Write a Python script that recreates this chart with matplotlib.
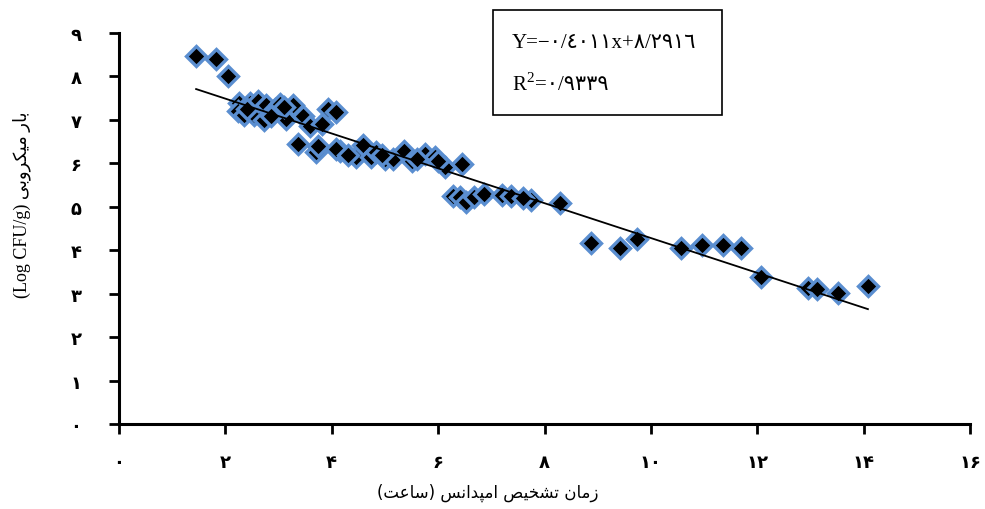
import numpy as np
import matplotlib.pyplot as plt
from matplotlib.patches import Rectangle

# time to impedance detection (hours) and microbial load (log CFU/g)
hours = [1.45, 1.82, 2.05, 2.26, 2.24, 2.35, 2.46, 2.54, 2.61, 2.73, 2.76, 2.93,
         3.03, 3.14, 3.27, 3.36, 3.46, 3.59, 3.70, 3.74, 3.82, 3.93, 4.08, 4.15,
         4.08, 4.45, 4.59, 4.74, 4.83, 5.00, 5.15, 5.36, 5.51, 5.75, 5.94, 6.13,
         6.28, 6.41, 6.52, 6.45, 6.67, 6.86, 7.20, 7.37, 7.74, 8.29, 8.87, 9.42,
         9.74, 10.56, 10.96, 11.35, 11.69, 12.07, 12.95, 13.12, 13.52, 14.08,
         2.40, 2.85, 3.10, 4.30, 4.95, 5.60, 6.00, 7.60]
log_cfu = [8.48, 8.41, 8.00, 7.40, 7.21, 7.12, 7.40, 7.12, 7.44, 7.00, 7.35, 7.26,
           7.37, 7.03, 7.35, 6.45, 7.10, 6.87, 6.27, 6.41, 6.91, 7.26, 7.19, 6.29,
           6.34, 6.15, 6.43, 6.15, 6.27, 6.10, 6.10, 6.29, 6.06, 6.22, 6.15, 5.92,
           5.25, 5.23, 5.12, 5.99, 5.23, 5.30, 5.28, 5.25, 5.16, 5.09, 4.17, 4.06,
           4.26, 4.06, 4.12, 4.12, 4.06, 3.39, 3.13, 3.11, 3.02, 3.18,
           7.25, 7.10, 7.30, 6.20, 6.20, 6.10, 6.05, 5.20]

slope = -0.4011
intercept = 8.2916
eq_text = 'Y=−۰/٤۰۱۱x+۸/۲۹۱٦'
r2_value = '۰/۹۳۳۹'

x_ticks = [0, 2, 4, 6, 8, 10, 12, 14, 16]
y_ticks = [0, 1, 2, 3, 4, 5, 6, 7, 8, 9]
fa_digits = '۰۱۲۳۴۵۶۷۸۹'

x_label = 'زمان تشخیص امپدانس (ساعت)'
y_label_fa = 'بار میکروبی'
y_label_en = '(Log CFU/g)'

# minimal contextual shaping for persian (matplotlib has no bidi/shaping)
FORMS = {
    'ا': (0xFE8D, 0xFE8E, None, None),
    'ب': (0xFE8F, 0xFE90, 0xFE91, 0xFE92),
    'ت': (0xFE95, 0xFE96, 0xFE97, 0xFE98),
    'خ': (0xFEA5, 0xFEA6, 0xFEA7, 0xFEA8),
    'د': (0xFEA9, 0xFEAA, None, None),
    'ر': (0xFEAD, 0xFEAE, None, None),
    'ز': (0xFEAF, 0xFEB0, None, None),
    'س': (0xFEB1, 0xFEB2, 0xFEB3, 0xFEB4),
    'ش': (0xFEB5, 0xFEB6, 0xFEB7, 0xFEB8),
    'ص': (0xFEB9, 0xFEBA, 0xFEBB, 0xFEBC),
    'ع': (0xFEC9, 0xFECA, 0xFECB, 0xFECC),
    'م': (0xFEE1, 0xFEE2, 0xFEE3, 0xFEE4),
    'ن': (0xFEE5, 0xFEE6, 0xFEE7, 0xFEE8),
    'و': (0xFEED, 0xFEEE, None, None),
    'پ': (0xFB56, 0xFB57, 0xFB58, 0xFB59),
    'ک': (0xFB8E, 0xFB8F, 0xFB90, 0xFB91),
    'ی': (0xFBFC, 0xFBFD, 0xFBFE, 0xFBFF),
}


def rtl(txt):
    out = []
    for i, c in enumerate(txt):
        if c not in FORMS:
            out.append(c)
            continue
        iso, fin, ini, med = FORMS[c]
        prv = i > 0 and txt[i - 1] in FORMS and FORMS[txt[i - 1]][2] is not None
        nxt = ini is not None and i + 1 < len(txt) and txt[i + 1] in FORMS
        if prv and nxt:
            code = med
        elif prv:
            code = fin
        elif nxt:
            code = ini
        else:
            code = iso
        out.append(chr(code))
    s = ''.join(out)[::-1]
    return s.translate(str.maketrans('()', ')('))


def fa_num(n):
    return ''.join(fa_digits[int(d)] for d in str(n))


plt.rcParams['font.family'] = ['DejaVu Sans']
serif = ['Liberation Serif', 'DejaVu Sans']

fig = plt.figure(figsize=(9.85, 5.1), dpi=100)
ax = fig.add_axes([0.1208, 0.1667, 0.864, 0.7666])

ax.plot(hours, log_cfu, linestyle='none', marker='D', markersize=10,
        markerfacecolor='black', markeredgecolor='#5a8ed0', markeredgewidth=2.4,
        zorder=3)

xl = np.array([min(hours), max(hours)])
ax.plot(xl, intercept + slope * xl, color='black', lw=1.3, zorder=4)

ax.set_xlim(0, 16)
ax.set_ylim(0, 9)
ax.set_xticks(x_ticks)
ax.set_yticks(y_ticks)
ax.set_xticklabels([fa_num(v) for v in x_ticks], fontsize=13, fontweight='bold')
ax.set_yticklabels([fa_num(v) for v in y_ticks], fontsize=13, fontweight='bold')
ax.tick_params(axis='x', direction='out', length=7, width=2, pad=14)
ax.tick_params(axis='y', direction='out', length=7, width=2, pad=20)
for side in ['top', 'right']:
    ax.spines[side].set_visible(False)
for side in ['left', 'bottom']:
    ax.spines[side].set_linewidth(2.2)

fig.text(488 / 985, 1 - 493 / 510, rtl(x_label), ha='center', va='center',
         fontsize=12)
fig.text(22 / 985, 1 - 205 / 510, y_label_en + ' ' + rtl(y_label_fa),
         rotation=90, ha='center', va='center', fontsize=13, family=serif)

# equation box
fig.patches.append(Rectangle((493 / 985, 1 - 116 / 510), 229 / 985, 105 / 510,
                             transform=fig.transFigure, fill=False,
                             edgecolor='black', lw=1.2))
fig.text(512 / 985, 1 - 43 / 510, eq_text, ha='left', va='center', fontsize=15,
         family=serif)
fig.text(512 / 985, 1 - 85 / 510, 'R', ha='left', va='center',
         fontsize=15, family=serif)
fig.text(526 / 985, 1 - 78 / 510, '2', ha='left', va='center',
         fontsize=11, family=serif)
fig.text(535 / 985, 1 - 85 / 510, '=' + r2_value, ha='left', va='center',
         fontsize=15, family=serif)

fig.savefig('out.png', dpi=100)
